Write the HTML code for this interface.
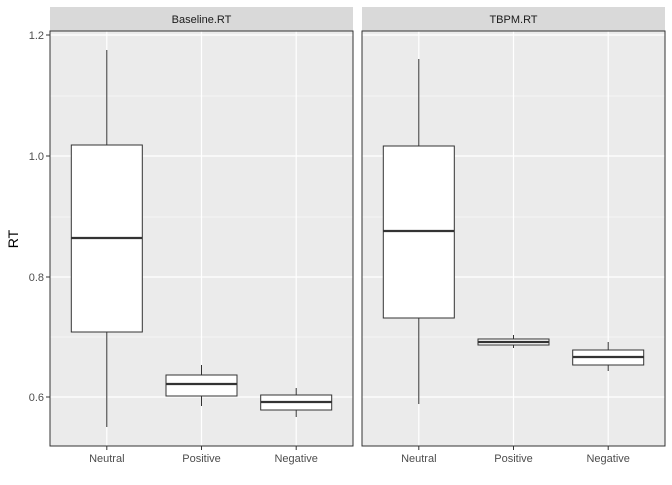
<!DOCTYPE html>
<html><head><style>body{margin:0;background:#fff}</style></head><body>
<svg width="672" height="480" xmlns="http://www.w3.org/2000/svg" font-family="Liberation Sans, sans-serif">
<rect width="672" height="480" fill="#fff"/>
<!-- strips -->
<rect x="50" y="7" width="303" height="24" fill="#d9d9d9"/>
<rect x="362" y="7" width="303" height="24" fill="#d9d9d9"/>
<text x="201.5" y="23" font-size="11" text-anchor="middle" fill="#1a1a1a">Baseline.RT</text>
<text x="513.5" y="23" font-size="11" text-anchor="middle" fill="#1a1a1a">TBPM.RT</text>
<!-- panels -->
<g id="p">
<rect x="50" y="31" width="303" height="415" fill="#ebebeb"/>
<g stroke="#fff" stroke-width="0.6">
<line x1="50" x2="353" y1="96" y2="96"/><line x1="50" x2="353" y1="217" y2="217"/><line x1="50" x2="353" y1="337" y2="337"/>
</g>
<g stroke="#fff" stroke-width="1.2">
<line x1="50" x2="353" y1="35" y2="35"/><line x1="50" x2="353" y1="156" y2="156"/><line x1="50" x2="353" y1="277" y2="277"/><line x1="50" x2="353" y1="397" y2="397"/>
<line x1="106.8" x2="106.8" y1="31" y2="446"/><line x1="201.5" x2="201.5" y1="31" y2="446"/><line x1="296.2" x2="296.2" y1="31" y2="446"/>
</g>
</g>
<use href="#p" x="312"/>
<g fill="none" stroke="#333" stroke-width="1">
<rect x="50" y="31" width="303" height="415"/><rect x="362" y="31" width="303" height="415"/>
</g>
<!-- boxes -->
<g stroke="#333" stroke-width="1" fill="#fff">
<line x1="106.8" x2="106.8" y1="50" y2="427"/><rect x="71.3" y="145" width="71" height="187"/>
<line x1="201.5" x2="201.5" y1="365" y2="406"/><rect x="166" y="375" width="71" height="21"/>
<line x1="296.2" x2="296.2" y1="388" y2="417"/><rect x="260.7" y="395" width="71" height="15"/>
<line x1="418.8" x2="418.8" y1="59" y2="404"/><rect x="383.3" y="146" width="71" height="172"/>
<line x1="513.5" x2="513.5" y1="335" y2="348"/><rect x="478" y="339" width="71" height="6"/>
<line x1="608.2" x2="608.2" y1="342" y2="371"/><rect x="572.7" y="350" width="71" height="15"/>
</g>
<g stroke="#333" stroke-width="2.2">
<line x1="71.3" x2="142.3" y1="238" y2="238"/><line x1="166" x2="237" y1="384" y2="384"/><line x1="260.7" x2="331.7" y1="402" y2="402"/>
<line x1="383.3" x2="454.3" y1="231" y2="231"/><line x1="478" x2="549" y1="342" y2="342"/><line x1="572.7" x2="643.7" y1="357" y2="357"/>
</g>
<!-- y axis -->
<g stroke="#333" stroke-width="1">
<line x1="46" x2="50" y1="35" y2="35"/><line x1="46" x2="50" y1="156" y2="156"/><line x1="46" x2="50" y1="277" y2="277"/><line x1="46" x2="50" y1="397" y2="397"/>
<line x1="106.8" x2="106.8" y1="446" y2="450"/><line x1="201.5" x2="201.5" y1="446" y2="450"/><line x1="296.2" x2="296.2" y1="446" y2="450"/>
<line x1="418.8" x2="418.8" y1="446" y2="450"/><line x1="513.5" x2="513.5" y1="446" y2="450"/><line x1="608.2" x2="608.2" y1="446" y2="450"/>
</g>
<g font-size="11" fill="#4d4d4d" text-anchor="end">
<text x="44" y="39">1.2</text><text x="44" y="160">1.0</text><text x="44" y="281">0.8</text><text x="44" y="401">0.6</text>
</g>
<g font-size="11" fill="#4d4d4d" text-anchor="middle">
<text x="106.8" y="462">Neutral</text><text x="201.5" y="462">Positive</text><text x="296.2" y="462">Negative</text>
<text x="418.8" y="462">Neutral</text><text x="513.5" y="462">Positive</text><text x="608.2" y="462">Negative</text>
</g>
<text x="18" y="239" font-size="14" fill="#000" text-anchor="middle" transform="rotate(-90 18 239)">RT</text>
</svg>
</body></html>
